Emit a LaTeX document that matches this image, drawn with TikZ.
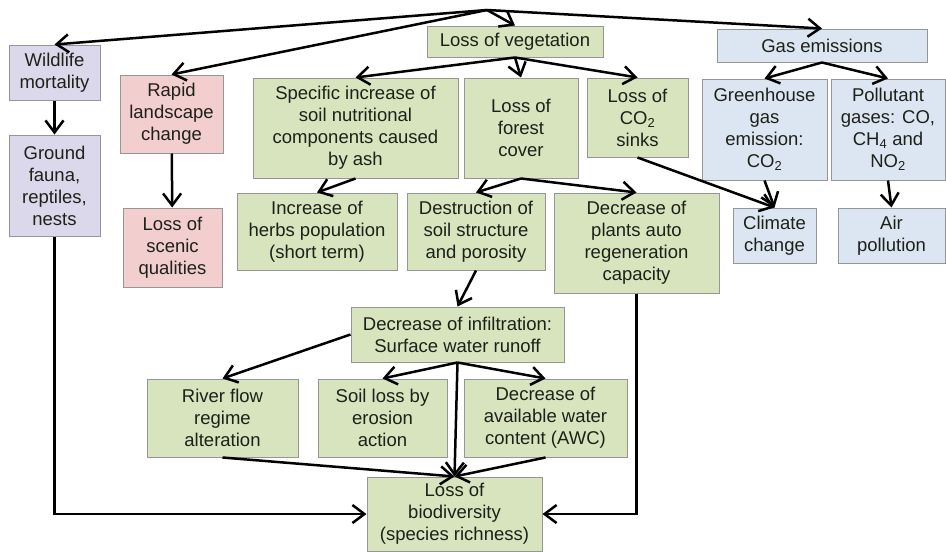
\documentclass[tikz,border=0pt]{standalone}
\usepackage{fontspec}
\setmainfont{Liberation Sans}
\usepackage{tikz}
\usetikzlibrary{arrows.meta,positioning}

\definecolor{boxpurple}{RGB}{220,216,235}
\definecolor{boxpink}{RGB}{242,206,206}
\definecolor{boxgreen}{RGB}{215,228,189}
\definecolor{boxblue}{RGB}{220,230,242}
\definecolor{boxline}{RGB}{150,150,150}
\definecolor{boxtext}{RGB}{30,32,26}

\tikzset{
    effect/.style={draw=boxline, line width=1pt, align=center, inner sep=0pt,
        text=boxtext, font=\fontsize{18.5}{22}\selectfont},
    fauna/.style={effect, fill=boxpurple},
    scenery/.style={effect, fill=boxpink},
    vegetation/.style={effect, fill=boxgreen},
    emission/.style={effect, fill=boxblue},
    link/.style={line width=2.5pt, -{Straight Barb[length=12pt,width=18pt]}}
}

\begin{document}
\begin{tikzpicture}[x=1pt, y=-1pt]
            \useasboundingbox (0,0) rectangle (946,552);

            % where everything starts
            \coordinate (fire) at (487,10);

            % left columns
            \node[fauna, minimum width=91, minimum height=55] (wild) at (54.5,72.5) {Wildlife\\mortality};
            \node[fauna, minimum width=91, minimum height=101] (ground) at (54.5,185.5) {Ground\\fauna,\\reptiles,\\nests};
            \node[scenery, minimum width=103, minimum height=78] (rapid) at (171.5,114) {Rapid\\landscape\\change};
            \node[scenery, minimum width=99, minimum height=79] (scenic) at (172.5,247.5) {Loss of\\scenic\\qualities};

            % vegetation branch
            \node[vegetation, minimum width=176, minimum height=31] (veg) at (515,41.5) {Loss of vegetation};
            \node[vegetation, minimum width=205, minimum height=100] (ash) at (355.5,128) {Specific increase of\\soil nutritional\\components caused\\by ash};
            \node[vegetation, minimum width=114, minimum height=100] (forest) at (521,128) {Loss of\\forest\\cover};
            \node[vegetation, minimum width=101, minimum height=79] (sinks) at (637.5,117.5) {Loss of\\CO\textsubscript{2}\\sinks};
            \node[vegetation, minimum width=160, minimum height=77] (herbs) at (317,231.5) {Increase of\\herbs population\\(short term)};
            \node[vegetation, minimum width=138, minimum height=77] (soilstr) at (476,231.5) {Destruction of\\soil structure\\and porosity};
            \node[vegetation, minimum width=165, minimum height=100] (regen) at (636.5,243) {Decrease of\\plants auto\\regeneration\\capacity};
            \node[vegetation, minimum width=213, minimum height=55] (infil) at (457.5,334.5) {Decrease of infiltration:\\Surface water runoff};
            \node[vegetation, minimum width=151, minimum height=78] (river) at (222.5,418) {River flow\\regime\\alteration};
            \node[vegetation, minimum width=129, minimum height=78] (erosion) at (382.5,418) {Soil loss by\\erosion\\action};
            \node[vegetation, minimum width=163, minimum height=78] (awc) at (545.5,418) {Decrease of\\available water\\content (AWC)};
            \node[vegetation, minimum width=175, minimum height=74] (biodiv) at (454.5,514) {Loss of\\biodiversity\\(species richness)};

            % gas branch
            \node[emission, minimum width=210, minimum height=33] (gas) at (822,45.5) {Gas emissions};
            \node[emission, minimum width=125, minimum height=101] (ghg) at (764.5,129.5) {Greenhouse\\gas\\emission:\\CO\textsubscript{2}};
            \node[emission, minimum width=114, minimum height=101] (pollut) at (888,129.5) {Pollutant\\gases: CO,\\CH\textsubscript{4} and\\NO\textsubscript{2}};
            \node[emission, minimum width=83, minimum height=55] (climate) at (774.5,235.5) {Climate\\change};
            \node[emission, minimum width=107, minimum height=55] (air) at (891.5,235.5) {Air\\pollution};

            % connectors
            \draw[link] (fire) -- (wild.north);
            \draw[link] (fire) -- (rapid.north);
            \draw[link] (fire) -- (veg.north);
            \draw[link] (fire) -- (gas.north);

            \draw[link] (wild) -- (ground);
            \draw[link] (rapid) -- (scenic);

            \draw[link] (veg.south) -- (ash.north);
            \draw[link] (veg.south) -- (forest.north);
            \draw[link] (veg.south) -- (sinks.north);
            \draw[link] (ash.south) -- (herbs.north);
            \draw[link] (forest.south) -- (soilstr.north);
            \draw[link] (forest.south) -- (regen.north);
            \draw[link] (sinks.south) -- (climate.north);
            \draw[link] (soilstr.south) -- (infil.north);

            \draw[link] (infil.west) -- (river.north);
            \draw[link] (infil.south) -- (erosion.north);
            \draw[link] (infil.south) -- (awc.north);
            \draw[link] (infil.south) -- (biodiv.north);
            \draw[link] (river.south) -- (biodiv.north);
            \draw[link] (awc.south) -- (biodiv.north);

            \draw[link] (ground.south) |- (biodiv.west);
            \draw[link] (regen.south) |- (biodiv.east);

            \draw[link] (gas.south) -- (ghg.north);
            \draw[link] (gas.south) -- (pollut.north);
            \draw[link] (ghg.south) -- (climate.north);
            \draw[link] (pollut.south) -- (air.north);
\end{tikzpicture}
\end{document}
